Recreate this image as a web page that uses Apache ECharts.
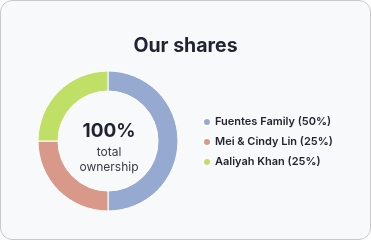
<!DOCTYPE html>
<html>
<head>
<meta charset="utf-8">
<script src="https://cdn.jsdelivr.net/npm/echarts@6/dist/echarts.min.js"></script>
<style>
  html, body { margin: 0; padding: 0; background: #ffffff; }
  #card {
    position: absolute; left: 0; top: 0;
    width: 369px; height: 238px;
    border: 1px solid #c9c9cc; border-radius: 12px;
    background: #f8f9fb; overflow: hidden;
  }
  #chart { width: 369px; height: 238px; }
</style>
</head>
<body>
<div id="card"><div id="chart"></div></div>
<script>
// shares data
const owners = ['Fuentes Family', 'Mei & Cindy Lin', 'Aaliyah Khan'];
const shares = [50, 25, 25];
const colors = ['#95a9d1', '#d9998a', '#bfdf66'];

const chart = echarts.init(document.getElementById('chart'));

const option = {
    backgroundColor: 'transparent',
    color: colors,
    textStyle: { fontFamily: 'Inter' },
    title: {
        text: 'Our shares',
        left: 'center',
        top: 30,
        textStyle: { fontSize: 19.5, fontWeight: 'bold', color: '#1f2430', fontFamily: 'Inter' }
    },
    legend: {
        orient: 'vertical',
        left: 196,
        top: 110,
        icon: 'circle',
        itemWidth: 8,
        itemHeight: 8,
        itemGap: 8,
        textStyle: { fontSize: 11, lineHeight: 12, fontWeight: 600, color: '#23262e', fontFamily: 'Inter', padding: [0, 0, 0, -1] },
        formatter: function (name) {
            const i = owners.indexOf(name);
            return name + ' (' + shares[i] + '%)';
        }
    },
    series: [{
        type: 'pie',
        center: [107, 140],
        radius: [50, 70],
        startAngle: 90,
        clockwise: true,
        label: { show: false },
        labelLine: { show: false },
        emphasis: { disabled: true },
        itemStyle: { borderColor: '#ffffff', borderWidth: 1 },
        data: owners.map((n, i) => ({ name: n, value: shares[i] }))
    }],
    graphic: [{
        type: 'text',
        style: {
            text: '100%',
            x: 108, y: 130,
            textAlign: 'center', textVerticalAlign: 'middle',
            font: 'bold 19px Inter', fill: '#1f2430'
        }
    }, {
        type: 'text',
        style: {
            text: 'total',
            x: 108, y: 151,
            textAlign: 'center', textVerticalAlign: 'middle',
            font: '12px Inter', fill: '#383b42'
        }
    }, {
        type: 'text',
        style: {
            text: 'ownership',
            x: 108, y: 166,
            textAlign: 'center', textVerticalAlign: 'middle',
            font: '12px Inter', fill: '#383b42'
        }
    }]
};

chart.setOption(option);
</script>
</body>
</html>
